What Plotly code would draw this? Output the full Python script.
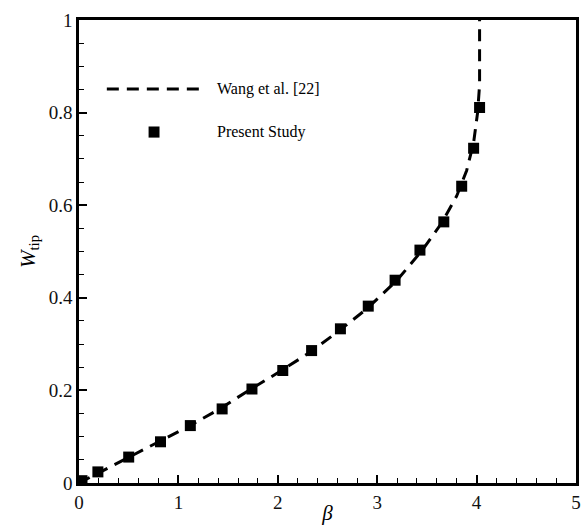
import plotly.graph_objects as go

# Wang et al. [22] (dashed reference curve)
wang_beta = [0.0, 0.2, 0.5, 0.8, 1.1, 1.4, 1.7, 2.0, 2.3, 2.6, 2.9, 3.2, 3.45, 3.65, 3.8, 3.9, 3.97, 4.01, 4.03, 4.03]
wang_w = [0.0, 0.022, 0.055, 0.088, 0.122, 0.158, 0.199, 0.238, 0.279, 0.326, 0.377, 0.438, 0.502, 0.562, 0.62, 0.675, 0.735, 0.80, 0.86, 1.0]

# Present Study (square markers)
study_beta = [0.03, 0.19, 0.50, 0.82, 1.12, 1.44, 1.74, 2.05, 2.34, 2.63, 2.91, 3.18, 3.43, 3.67, 3.85, 3.97, 4.03]
study_w = [0.005, 0.024, 0.056, 0.089, 0.124, 0.160, 0.203, 0.243, 0.286, 0.333, 0.382, 0.438, 0.503, 0.564, 0.641, 0.723, 0.811]

legend_labels = ["Wang et al. [22]", "Present Study"]

FONT = "Liberation Serif, Times New Roman, DejaVu Serif, serif"

fig = go.Figure()
fig.add_trace(go.Scatter(x=wang_beta, y=wang_w, mode="lines",
                         line=dict(color="black", width=3, dash="12px,8px"),
                         name=legend_labels[0], showlegend=False))
fig.add_trace(go.Scatter(x=study_beta, y=study_w, mode="markers",
                         marker=dict(symbol="square", size=11, color="black"),
                         name=legend_labels[1], showlegend=False))

# manual legend
fig.add_shape(type="line", xref="paper", yref="paper", x0=0.056, x1=0.244, y0=0.851, y1=0.851,
              line=dict(color="black", width=3, dash="12px,8px"))
fig.add_shape(type="rect", xref="paper", yref="paper", x0=0.140, x1=0.162, y0=0.746, y1=0.770,
              fillcolor="black", line=dict(width=0))
fig.add_annotation(xref="paper", yref="paper", x=0.273, y=0.851, text=legend_labels[0],
                   showarrow=False, xanchor="left", yanchor="middle",
                   font=dict(family=FONT, size=16, color="black"))
fig.add_annotation(xref="paper", yref="paper", x=0.273, y=0.758, text=legend_labels[1],
                   showarrow=False, xanchor="left", yanchor="middle",
                   font=dict(family=FONT, size=16, color="black"))

axis_common = dict(showline=True, linecolor="black", linewidth=2.5, mirror=True,
                   ticks="inside", ticklen=8, tickwidth=2, tickcolor="black",
                   showgrid=False, zeroline=False, automargin=False,
                   ticklabeloverflow="allow",
                   tickfont=dict(family=FONT, size=19, color="#111"))

fig.update_xaxes(range=[0, 5], dtick=1, tick0=0,
                 minor=dict(dtick=0.2, ticks="inside", ticklen=5, tickwidth=1.2, tickcolor="black"),
                 title=dict(text="<i>β</i>", font=dict(family=FONT, size=21, color="black"), standoff=2),
                 **axis_common)
fig.update_yaxes(range=[0, 1], dtick=0.2, tick0=0,
                 minor=dict(dtick=0.05, ticks="inside", ticklen=5, tickwidth=1.2, tickcolor="black"),
                 title=dict(text="<i>W</i><sub>tip</sub>", font=dict(family=FONT, size=21, color="black"), standoff=8),
                 **axis_common)

fig.update_layout(width=582, height=525, margin=dict(l=79, r=6, t=20, b=42),
                  font=dict(family=FONT),
                  plot_bgcolor="white", paper_bgcolor="white", showlegend=False)

fig.write_html("out.html")
